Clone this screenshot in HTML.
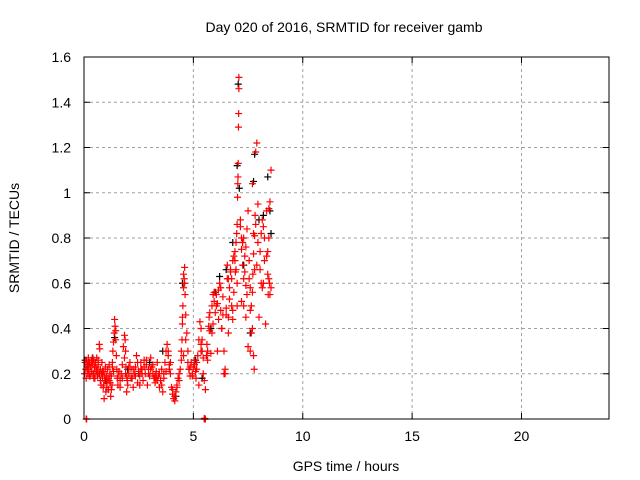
<!DOCTYPE html>
<html><head><meta charset="utf-8"><style>
body{margin:0;background:#fff}
svg{display:block;font-family:"Liberation Sans",sans-serif}
</style></head><body>
<svg id="chart" width="640" height="480" viewBox="0 0 640 480">
<rect x="0" y="0" width="640" height="480" fill="#fff"/>
<text x="344" y="32" font-size="14" text-anchor="middle">Day 020 of 2016, SRMTID for receiver gamb</text>
<text x="346" y="471" font-size="14" text-anchor="middle">GPS time / hours</text>
<text transform="translate(19,238) rotate(-90)" font-size="14" text-anchor="middle">SRMTID / TECUs</text>
<g id="grid"></g>
<g id="axes"></g>
<g id="black"></g>
<g id="red"></g>
<rect x="84" y="57" width="525" height="362" fill="none" stroke="#000" stroke-width="1"/>
</svg>
<script>
const xTicks=[0,5,10,15,20];
const yTicks=[0,0.2,0.4,0.6,0.8,1,1.2,1.4,1.6];
const yTickLabels=["0","0.2","0.4","0.6","0.8","1","1.2","1.4","1.6"];
const redX=[
0.02,0.05,0.08,0.1,0.12,0.15,0.18,0.2,0.22,0.25,
0.28,0.3,0.33,0.35,0.38,0.4,0.42,0.45,0.48,0.5,
0.52,0.55,0.58,0.6,0.62,0.65,0.68,0.7,0.72,0.75,
0.78,0.8,0.82,0.85,0.88,0.9,0.92,0.95,0.98,1.0,
1.02,1.05,1.08,1.1,1.12,1.15,1.18,1.2,1.22,1.25,
1.28,1.3,1.32,1.35,1.38,1.4,1.42,1.45,1.48,1.5,
1.52,1.55,1.6,1.65,1.7,1.75,1.8,1.85,1.88,1.9,
1.92,1.95,1.98,2.0,2.05,2.1,2.15,2.2,2.25,2.3,
2.35,2.4,2.45,2.5,2.55,2.6,2.65,2.7,2.75,2.8,
2.85,2.9,2.95,3.0,3.05,3.1,3.15,3.2,3.25,3.3,
3.35,3.4,3.45,3.5,3.55,3.6,3.65,3.7,3.75,3.8,
3.85,3.9,3.95,4.0,4.05,4.1,4.15,4.2,4.25,4.3,
4.35,4.4,4.45,4.48,4.5,4.52,4.55,4.58,4.6,4.62,
4.65,4.7,4.75,4.8,4.85,4.9,4.95,5.0,5.05,5.1,
5.12,5.15,5.2,5.25,5.3,5.35,5.4,5.45,5.5,5.55,
5.6,5.62,5.65,5.7,5.72,5.75,5.8,5.85,5.9,5.95,
6.0,6.05,6.1,6.15,6.2,6.25,6.3,6.35,6.4,6.45,
6.5,6.55,6.6,6.65,6.7,6.75,6.8,6.85,6.9,6.92,
6.95,6.98,7.0,7.02,7.03,7.04,7.05,7.06,7.07,7.08,
7.08,7.15,7.2,7.25,7.3,7.35,7.4,7.45,7.5,7.55,
7.6,7.65,7.7,7.72,7.75,7.78,7.8,7.82,7.85,7.9,
7.95,8.0,8.05,8.1,8.15,8.2,8.25,8.3,8.35,8.4,
8.42,8.45,8.48,8.5,8.55,7.7,7.75,7.8,7.3,7.4,
0.1,0.12,5.5,5.52,5.55,5.5,0.2,0.45,0.6,0.9,
1.3,1.9,2.6,3.3,3.9,4.5,4.55,4.6,5.35,5.4,
5.9,6.1,6.3,6.6,6.8,6.9,7.0,7.3,7.6,7.7,
7.9,8.2,8.4,8.45,8.5,6.5,6.7,7.2,7.5,8.1,
0.15,0.25,0.35,0.45,0.55,0.65,0.75,0.85,0.95,1.05,
1.15,1.25,1.35,1.45,1.55,1.65,1.75,1.85,1.95,2.05,
2.15,2.25,2.35,2.45,2.55,2.65,2.75,2.85,2.95,3.05,
3.15,3.25,3.35,3.45,3.55,3.65,3.75,3.85,3.95,4.05,
4.15,4.25,4.35,4.45,4.55,4.65,4.75,4.85,4.95,5.05,
5.15,5.25,5.35,5.45,5.65,5.75,5.85,5.95,6.05,6.15,
6.25,6.35,6.45,6.55,6.65,6.75,6.85,6.95,7.15,7.25,
7.35,7.45,7.55,7.65,7.75,7.85,7.95,8.05,8.15,8.25,
8.35,8.45,8.55,6.4,6.6,6.8,7.0,7.2,7.4,7.6];
const redY=[
0.2,0.25,0.22,0.18,0.26,0.24,0.2,0.27,0.22,0.25,
0.19,0.23,0.26,0.21,0.27,0.24,0.2,0.26,0.23,0.18,
0.25,0.21,0.27,0.22,0.19,0.24,0.2,0.33,0.31,0.22,
0.15,0.2,0.25,0.18,0.14,0.21,0.09,0.17,0.23,0.12,
0.19,0.16,0.22,0.18,0.13,0.24,0.2,0.16,0.1,0.19,
0.15,0.23,0.3,0.34,0.38,0.44,0.41,0.35,0.28,0.22,
0.18,0.15,0.21,0.17,0.2,0.24,0.32,0.37,0.35,0.3,
0.23,0.12,0.17,0.15,0.2,0.25,0.22,0.18,0.14,0.2,
0.23,0.28,0.16,0.21,0.19,0.25,0.22,0.17,0.26,0.2,
0.24,0.15,0.22,0.19,0.27,0.23,0.2,0.18,0.16,0.21,
0.25,0.19,0.14,0.17,0.22,0.12,0.2,0.25,0.3,0.33,
0.28,0.22,0.2,0.14,0.11,0.09,0.08,0.12,0.15,0.18,
0.2,0.22,0.26,0.35,0.42,0.5,0.58,0.62,0.67,0.55,
0.46,0.38,0.3,0.22,0.19,0.25,0.2,0.23,0.26,0.21,
0.18,0.25,0.28,0.35,0.43,0.4,0.3,0.2,0.17,0.13,
0.28,0.33,0.3,0.41,0.45,0.39,0.29,0.5,0.42,0.52,
0.47,0.55,0.51,0.57,0.6,0.48,0.4,0.54,0.3,0.22,
0.49,0.62,0.45,0.58,0.66,0.5,0.7,0.56,0.74,0.65,
0.78,0.82,0.86,0.98,1.04,1.07,1.13,1.29,1.35,1.46,
1.51,0.88,0.75,0.68,0.8,0.72,0.59,0.84,0.92,0.62,
0.48,0.38,0.56,0.64,0.28,0.22,0.81,0.9,1.18,1.22,
0.95,0.45,0.74,0.82,0.88,0.6,0.7,0.42,0.92,0.64,
0.55,0.8,0.6,0.96,1.1,1.04,0.82,0.66,0.5,0.45,
0,0,0,0,0,0.003,0.24,0.18,0.21,0.15,
0.25,0.2,0.22,0.18,0.24,0.45,0.28,0.6,0.3,0.35,
0.55,0.3,0.4,0.62,0.48,0.7,0.5,0.62,0.58,0.4,
0.68,0.85,0.74,0.62,0.55,0.46,0.65,0.8,0.32,0.6,
0.22,0.19,0.25,0.2,0.23,0.26,0.17,0.21,0.19,0.14,
0.17,0.13,0.21,0.39,0.19,0.14,0.18,0.27,0.19,0.23,
0.18,0.22,0.19,0.25,0.15,0.2,0.23,0.26,0.2,0.22,
0.24,0.19,0.17,0.2,0.15,0.18,0.21,0.3,0.25,0.13,
0.1,0.14,0.17,0.3,0.64,0.35,0.25,0.23,0.19,0.24,
0.22,0.15,0.33,0.27,0.26,0.47,0.38,0.56,0.5,0.44,
0.58,0.46,0.2,0.68,0.53,0.62,0.72,0.66,0.85,0.78,
0.65,0.55,0.7,0.5,0.73,0.86,0.78,0.66,0.58,0.8,
0.72,0.93,0.58,0.2,0.38,0.44,0.6,0.52,0.76,0.3];
const blackX=[0.05,0.15,0.4,0.7,1.0,1.4,2.0,2.5,3.0,3.6,4.2,4.5,4.8,5.1,5.4,5.8,6.0,6.2,6.5,6.8,7.0,7.05,7.1,7.3,7.6,7.75,7.8,8.0,8.2,8.4,8.5,8.55];
const blackY=[0.26,0.23,0.27,0.2,0.17,0.36,0.22,0.2,0.25,0.3,0.1,0.6,0.22,0.26,0.18,0.4,0.56,0.63,0.66,0.78,1.12,1.48,1.02,0.68,0.38,1.05,1.17,0.88,0.9,1.07,0.92,0.82];
const X=v=>84+v*(525/24), Y=v=>419-v*(362/1.6);
const NS="http://www.w3.org/2000/svg";
const grid=document.getElementById('grid'),axes=document.getElementById('axes');
function mk(p,tag,at){const e=document.createElementNS(NS,tag);for(const k in at)e.setAttribute(k,at[k]);p.appendChild(e);return e;}
xTicks.forEach(t=>{
 const x=X(t);
 if(t>0){const g=mk(grid,'line',{x1:x,x2:x,y1:57,y2:419,stroke:'#a0a0a0','stroke-dasharray':'3,3'});
 
 }
 const tk=mk(axes,'path',{d:`M${x},419v-6M${x},57v6`,stroke:'#000'});
 
 
 const l=mk(axes,'text',{x:x,y:441,'font-size':14,'text-anchor':'middle'});l.textContent=t;
 
 
});
yTicks.forEach((t,i)=>{
 const y=Y(t);
 if(t>0&&t<1.6){const g=mk(grid,'line',{x1:84,x2:609,y1:y,y2:y,stroke:'#a0a0a0','stroke-dasharray':'3,3'});
 
 }
 const tk=mk(axes,'path',{d:`M84,${y}h6M609,${y}h-6`,stroke:'#000'});
 
 
 const l=mk(axes,'text',{x:71,y:y+5,'font-size':14,'text-anchor':'end'});l.textContent=yTickLabels[i];
 
 
});
function plot(gid,xs,ys,col,name){
 const g=document.getElementById(gid);
 xs.forEach((v,i)=>{const x=X(v),y=Y(ys[i]);
  const p=mk(g,'path',{d:`M${x-3.5},${y}h7M${x},${y-3.5}v7`,stroke:col,'stroke-width':1.2});
  
  
 });
}
plot('black',blackX,blackY,'#000','black-point');
plot('red',redX,redY,'#f00','red-point');
</script>
</body></html>
